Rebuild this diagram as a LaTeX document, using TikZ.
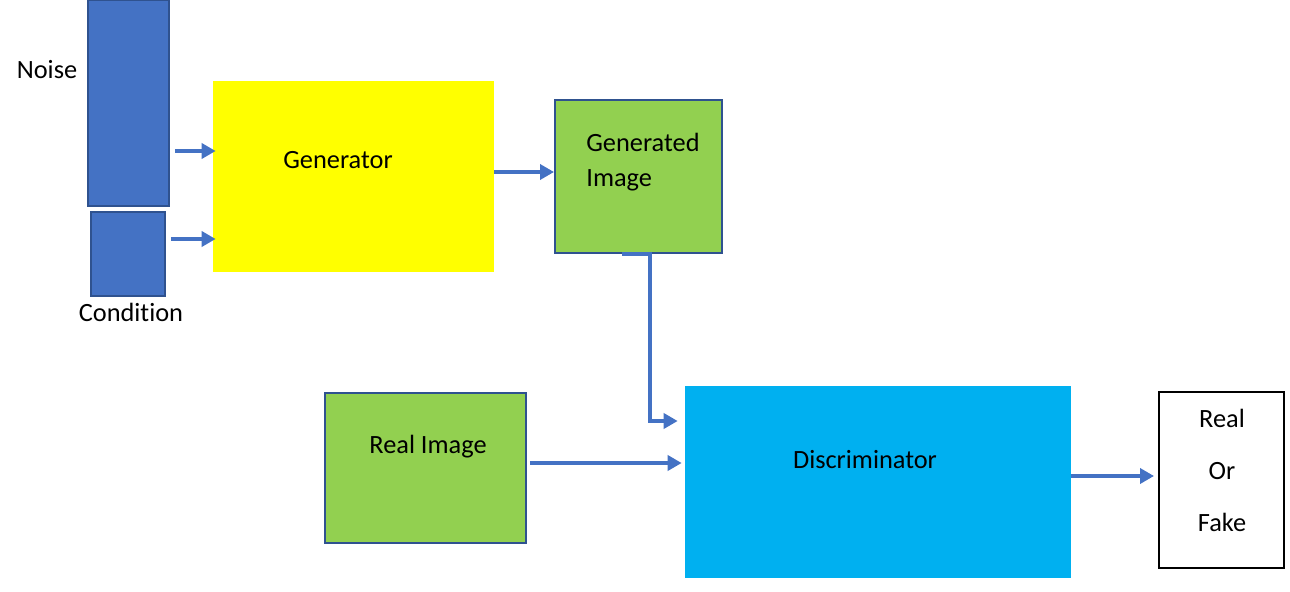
\documentclass[tikz,border=0pt]{standalone}
\usepackage{fontspec}
\setmainfont{Carlito}[Ligatures={NoCommon}]
\usetikzlibrary{positioning,arrows.meta}
\definecolor{inblue}{HTML}{4472C4}
\definecolor{edgeblue}{HTML}{2F528F}
\definecolor{imggreen}{HTML}{92D050}
\definecolor{discblue}{HTML}{00B0F0}
\definecolor{genyellow}{HTML}{FFFF00}
\tikzset{
  input block/.style={draw=edgeblue, line width=0.04cm, fill=inblue, inner sep=0pt},
  image block/.style={draw=edgeblue, line width=0.04cm, fill=imggreen, inner sep=0pt},
  plain block/.style={inner sep=0pt},
  caption/.style={font=\fontsize{15}{18}\selectfont, inner sep=0pt},
  flow/.style={draw=inblue, line width=0.07cm, -{Triangle[length=0.28cm,width=0.3cm]}},
}

\begin{document}
\begin{tikzpicture}[x=0.02cm,y=-0.02cm]
\useasboundingbox (0,0) rectangle (1290,591);
% the blocks
\node [input block, minimum width=1.62cm, minimum height=4.12cm] (noise) at (128.5,103) {};
\node [input block, minimum width=1.48cm, minimum height=1.68cm] (cond) at (128,254) {};
\node [plain block, fill=genyellow, minimum width=5.62cm, minimum height=3.82cm] (gen) at (353.5,176.5) {};
\node [image block, minimum width=3.34cm, minimum height=3.06cm] (genimg) at (638.5,176.5) {};
\node [image block, minimum width=4.02cm, minimum height=3.0cm] (real) at (425.5,468) {};
\node [plain block, fill=discblue, minimum width=7.72cm, minimum height=3.84cm] (disc) at (878,482) {};
\node [plain block, draw=black, line width=0.04cm, minimum width=2.5cm, minimum height=3.52cm] (result) at (1221.5,480) {};
% the texts
\node [caption] (noiselabel) at (47,70) {Noise};
\node [caption] (condlabel) at (131,312) {Condition};
\node [caption] (gentext) at (338,160) {Generator};
\node [caption, anchor=west, align=left, font=\fontsize{15}{20}\selectfont] (genimgtext) at (586,162) {Generated\\Image};
\node [caption] (realtext) at (428,447) {Real Image};
\node [caption] (disctext) at (865,460) {Discriminator};
\node [caption, align=center, font=\fontsize{15}{29.6}\selectfont] (resulttext) at (1222,470) {Real\\Or\\Fake};
%drawings of arrows
\draw[flow] ([xshift=0.1cm]noise.east |- 0,151) -- ([xshift=0.06cm]gen.west |- 0,151);
\draw[flow] ([xshift=0.1cm]cond.east |- 0,239) -- ([xshift=0.06cm]gen.west |- 0,239);
\draw[flow] (gen.east |- 0,172) -- (genimg.west |- 0,172);
\draw[flow] (genimg.south -| 622,0) -| (650,421) -- ([xshift=-0.14cm]disc.west |- 0,421);
\draw[flow] ([xshift=0.06cm]real.east |- 0,463) -- ([xshift=-0.06cm]disc.west |- 0,463);
\draw[flow] (disc.east |- 0,476) -- ([xshift=-0.08cm]result.west |- 0,476);
\end{tikzpicture}
\end{document}
